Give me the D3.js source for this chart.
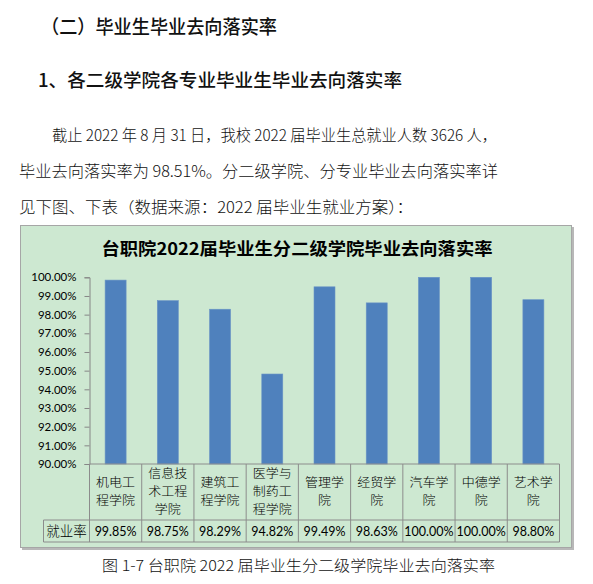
<!DOCTYPE html>
<html><head><meta charset="utf-8">
<script src="https://cdn.jsdelivr.net/npm/d3@7"></script>
<style>
html,body{margin:0;padding:0;background:#fff;}
svg{display:block;}
</style></head>
<body>
<svg id="c" width="593" height="584"></svg>
<script>
const categories = ["机电工程学院","信息技术工程学院","建筑工程学院","医学与制药工程学院","管理学院","经贸学院","汽车学院","中德学院","艺术学院"];
const categoryLines = [["机电工","程学院"],["信息技","术工程","学院"],["建筑工","程学院"],["医学与","制药工","程学院"],["管理学","院"],["经贸学","院"],["汽车学","院"],["中德学","院"],["艺术学","院"]];
const rates = [99.85, 98.75, 98.29, 94.82, 99.49, 98.63, 100.00, 100.00, 98.80];
const rateLabels = ["99.85%","98.75%","98.29%","94.82%","99.49%","98.63%","100.00%","100.00%","98.80%"];
const yTicks = [90,91,92,93,94,95,96,97,98,99,100];
const rowHeader = "就业率";
const chartTitle = "台职院2022届毕业生分二级学院毕业去向落实率";
const heading1 = "（二）毕业生毕业去向落实率";
const heading2 = "1、各二级学院各专业毕业生毕业去向落实率";
const para = ["截止 2022 年 8 月 31 日，我校 2022 届毕业生总就业人数 3626 人，",
              "毕业去向落实率为 98.51%。分二级学院、分专业毕业去向落实率详",
              "见下图、下表（数据来源：2022 届毕业生就业方案）："];
const caption = "图 1-7  台职院 2022 届毕业生分二级学院毕业去向落实率";

const svg = d3.select("#c");
const cjk = "'Noto Sans CJK SC', sans-serif";
const latin = "Lato, 'Noto Sans CJK SC', sans-serif";

// Headings and paragraph
svg.append("text").attr("x", 41).attr("y", 34).attr("font-family", cjk).attr("font-size", 19).attr("font-weight", 500)
  .attr("fill", "#111").attr("textLength", 236).attr("lengthAdjust","spacingAndGlyphs").text(heading1);
svg.append("text").attr("x", 38).attr("y", 87).attr("font-family", cjk).attr("font-size", 18).attr("font-weight", 500)
  .attr("fill", "#111").attr("textLength", 364).attr("lengthAdjust","spacingAndGlyphs").text(heading2);
const paraX = [52, 19, 19], paraY = [141, 177, 213], paraW = [445, 479, 394];
para.forEach((t,i)=>{
  svg.append("text").attr("x", paraX[i]).attr("y", paraY[i]).attr("font-family", cjk).attr("font-size", 15.5)
    .attr("font-weight", 300).attr("fill", "#111").attr("textLength", paraW[i]).attr("lengthAdjust","spacingAndGlyphs").text(t);
});

// Chart box
svg.append("rect").attr("x", 22).attr("y", 227).attr("width", 552).attr("height", 323).attr("fill", "#b8b8b8");
svg.append("rect").attr("x", 20.5).attr("y", 225.5).attr("width", 551).attr("height", 322)
  .attr("fill", "#cde8d1").attr("stroke", "#a6a6a6").attr("stroke-width", 1);

svg.append("text").attr("x", 297).attr("y", 255).attr("text-anchor", "middle").attr("font-family", cjk)
  .attr("font-size", 17).attr("font-weight", 700).attr("fill", "#000")
  .attr("textLength", 391).attr("lengthAdjust","spacingAndGlyphs").text(chartTitle);

const x0 = 89.5, x1 = 559.5, yTop = 277.3, yBot = 464;
const x = d3.scaleBand().domain(categories).range([x0, x1]).paddingInner(0).paddingOuter(0);
const y = d3.scaleLinear().domain([90, 100]).range([yBot, yTop]);

// bars
svg.append("g").selectAll("rect").data(rates).join("rect")
  .attr("x", (d,i)=> x(categories[i]) + x.bandwidth()/2 - 10.5)
  .attr("width", 21)
  .attr("y", d=> y(d))
  .attr("height", d=> y(90) - y(d))
  .attr("fill", "#4f81bd").attr("stroke", "#6a94c6").attr("stroke-width", 0.6);

// y axis
const yAxis = d3.axisLeft(y).tickValues(yTicks).tickSize(5).tickPadding(8).tickFormat(d=> d3.format(".2f")(d)+"%");
const ga = svg.append("g").attr("transform", `translate(${x0},0)`).call(yAxis);
ga.select(".domain").attr("stroke", "#868686");
ga.selectAll(".tick line").attr("stroke", "#868686");
ga.selectAll(".tick text").attr("font-family", latin).attr("font-size", 11.5).attr("fill", "#000");

// table
const tableLeft = 43.5, rowTop = yBot, rowMid = 520, rowBot = 542;
const tg = svg.append("g").attr("stroke", "#8c8c8c").attr("stroke-width", 1).attr("fill", "none");
tg.append("line").attr("x1", x0).attr("x2", x1).attr("y1", yBot).attr("y2", yBot);
tg.append("line").attr("x1", tableLeft).attr("x2", x1).attr("y1", rowMid).attr("y2", rowMid);
tg.append("line").attr("x1", tableLeft).attr("x2", x1).attr("y1", rowBot).attr("y2", rowBot);
tg.append("line").attr("x1", tableLeft).attr("x2", tableLeft).attr("y1", rowMid).attr("y2", rowBot);
const bounds = categories.map(c=> x(c)).concat([x1]);
tg.selectAll("line.v").data(bounds).join("line").attr("class","v")
  .attr("x1", d=>d).attr("x2", d=>d).attr("y1", rowTop).attr("y2", rowBot);

// category labels
const lh = 18;
categoryLines.forEach((lines,i)=>{
  const cx = x(categories[i]) + x.bandwidth()/2;
  const cy = (rowTop + rowMid)/2;
  lines.forEach((ln,j)=>{
    svg.append("text").attr("x", cx).attr("y", cy + (j - (lines.length-1)/2)*lh)
      .attr("dy", "0.36em").attr("text-anchor", "middle").attr("font-family", cjk)
      .attr("font-size", 12.3).attr("font-weight", 300).attr("fill", "#000")
      .attr("textLength", 13 * ln.length).attr("lengthAdjust", "spacingAndGlyphs").text(ln);
  });
  svg.append("text").attr("x", cx).attr("y", (rowMid+rowBot)/2).attr("dy", "0.36em")
    .attr("text-anchor", "middle").attr("font-family", latin).attr("font-size", 12.5).attr("fill", "#000").text(rateLabels[i]);
});
svg.append("text").attr("x", (tableLeft + x0)/2).attr("y", (rowMid+rowBot)/2).attr("dy", "0.36em")
  .attr("text-anchor", "middle").attr("font-family", cjk).attr("font-size", 13.5).attr("font-weight", 300).attr("fill", "#000").text(rowHeader);

// caption
svg.append("text").attr("x", 102).attr("y", 571).attr("font-family", cjk).attr("font-size", 14.5).attr("font-weight", 300)
  .attr("fill", "#111").attr("textLength", 393).attr("lengthAdjust","spacingAndGlyphs").text(caption);
</script>
</body></html>
